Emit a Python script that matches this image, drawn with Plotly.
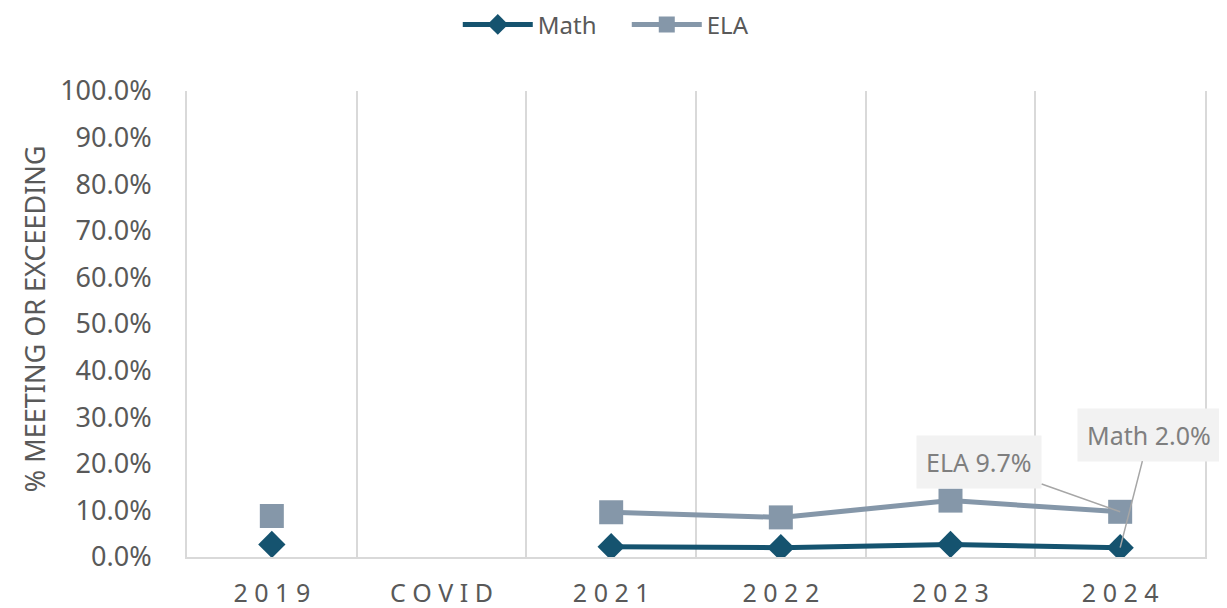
import plotly.graph_objects as go

# data
years = ["2019", "COVID", "2021", "2022", "2023", "2024"]
math_pct = [2.7, None, 2.2, 2.0, 2.7, 2.0]
ela_pct = [8.8, None, 9.6, 8.5, 12.1, 9.7]
y_ticks = [0, 10, 20, 30, 40, 50, 60, 70, 80, 90, 100]

math_color = "#15536f"
ela_color = "#8597a9"
grey = "#595959"
grid = "#d9d9d9"

fig = go.Figure()
fig.add_trace(go.Scatter(
    x=years, y=math_pct, name="Math", mode="lines+markers",
    line=dict(color=math_color, width=5),
    marker=dict(symbol="diamond", size=21, color=math_color),
))
fig.add_trace(go.Scatter(
    x=years, y=ela_pct, name="ELA", mode="lines+markers",
    line=dict(color=ela_color, width=5),
    marker=dict(symbol="square", size=24, color=ela_color),
))

# callout labels for the last point (category index, not the "2024" string)
last = len(years) - 1
fig.add_annotation(
    x=last, y=ela_pct[-1], text=f"ELA {ela_pct[-1]:.1f}%",
    ax=-141, ay=-50, showarrow=True, arrowhead=0, arrowwidth=1.5,
    arrowcolor="#a6a6a6", bgcolor="#f2f2f2", borderpad=9,
    font=dict(size=25, color="#7f7f7f"),
)
fig.add_annotation(
    x=last, y=math_pct[-1], text=f"Math {math_pct[-1]:.1f}%",
    ax=29, ay=-113, showarrow=True, arrowhead=0, arrowwidth=1.5,
    arrowcolor="#a6a6a6", bgcolor="#f2f2f2", borderpad=9,
    font=dict(size=25, color="#7f7f7f"),
)
# y axis title
fig.add_annotation(
    x=-0.149, y=0.511, xref="paper", yref="paper", text="% MEETING OR EXCEEDING",
    textangle=-90, showarrow=False, xanchor="center", yanchor="middle",
    font=dict(size=27, color=grey),
)

# page body keeps an 8px margin, so the figure is shifted by 8px
fig.update_layout(
    width=1211, height=600,
    margin=dict(l=179, r=14, t=83, b=51),
    plot_bgcolor="white", paper_bgcolor="white",
    font=dict(family="Noto Sans", color=grey),
    showlegend=True,
    legend=dict(orientation="h", x=0.432, xanchor="center", xref="paper",
                y=0.972, yref="container", yanchor="middle",
                itemwidth=70, entrywidth=84,
                font=dict(size=24, color=grey)),
    xaxis=dict(
        type="category", tickson="boundaries", showgrid=True, automargin=False,
        gridcolor=grid, gridwidth=2, showline=True, linecolor=grid,
        linewidth=2, ticks="", tickmode="array", tickvals=years,
        ticktext=[" ".join(y) for y in years], ticklabelstandoff=13,
        tickfont=dict(size=25, color=grey), range=[-0.5, 5.5],
    ),
    yaxis=dict(
        range=[0, 100], tickvals=y_ticks, automargin=False,
        ticktext=[f"{v:.1f}%" for v in y_ticks],
        showgrid=False, zeroline=False, showline=True, mirror=True,
        linecolor=grid, linewidth=2, ticks="", ticklabelstandoff=28,
        tickfont=dict(size=27, color=grey),
    ),
)

fig.write_html("out.html")
